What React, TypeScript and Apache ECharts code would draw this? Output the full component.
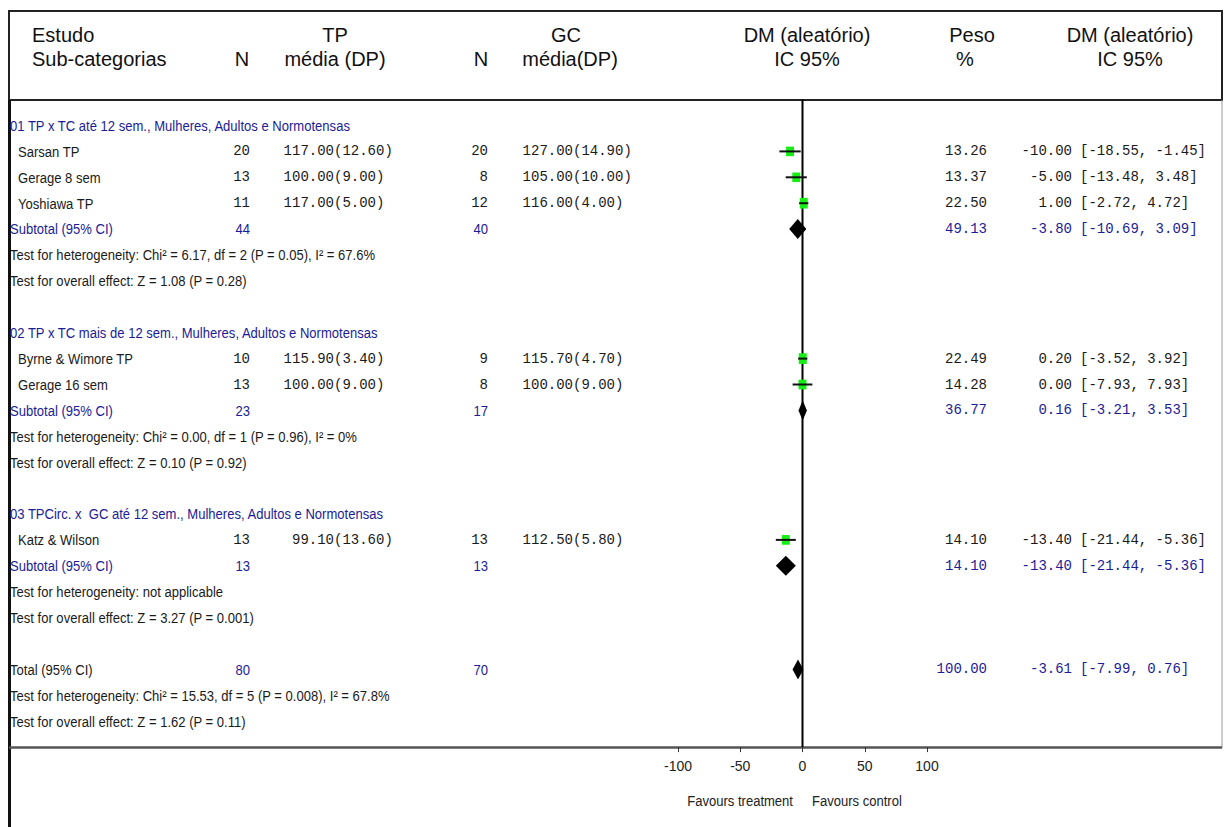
import React, { useEffect, useRef } from "react";
import * as echarts from "echarts";

// ---------------- data ----------------
const groupTitles = [
  "01 TP x TC até 12 sem., Mulheres, Adultos e Normotensas",
  "02 TP x TC mais de 12 sem., Mulheres, Adultos e Normotensas",
  "03 TPCirc. x  GC até 12 sem., Mulheres, Adultos e Normotensas",
];
const studyNames = ["Sarsan TP", "Gerage 8 sem", "Yoshiawa TP", "Byrne & Wimore TP", "Gerage 16 sem", "Katz & Wilson"];
const studyGroup = [0, 0, 0, 1, 1, 2];
const tpN = [20, 13, 11, 10, 13, 13];
const tpMean = [117.0, 100.0, 117.0, 115.9, 100.0, 99.1];
const tpSD = [12.6, 9.0, 5.0, 3.4, 9.0, 13.6];
const gcN = [20, 8, 12, 9, 8, 13];
const gcMean = [127.0, 105.0, 116.0, 115.7, 100.0, 112.5];
const gcSD = [14.9, 10.0, 4.0, 4.7, 9.0, 5.8];
const weight = [13.26, 13.37, 22.5, 22.49, 14.28, 14.1];
const md = [-10.0, -5.0, 1.0, 0.2, 0.0, -13.4];
const ciLow = [-18.55, -13.48, -2.72, -3.52, -7.93, -21.44];
const ciHigh = [-1.45, 3.48, 4.72, 3.92, 7.93, -5.36];

const subTpN = [44, 23, 13];
const subGcN = [40, 17, 13];
const subWeight = [49.13, 36.77, 14.1];
const subMd = [-3.8, 0.16, -13.4];
const subLow = [-10.69, -3.21, -21.44];
const subHigh = [3.09, 3.53, -5.36];
const heterogeneity = [
  "Test for heterogeneity: Chi² = 6.17, df = 2 (P = 0.05), I² = 67.6%",
  "Test for heterogeneity: Chi² = 0.00, df = 1 (P = 0.96), I² = 0%",
  "Test for heterogeneity: not applicable",
];
const overallEffect = [
  "Test for overall effect: Z = 1.08 (P = 0.28)",
  "Test for overall effect: Z = 0.10 (P = 0.92)",
  "Test for overall effect: Z = 3.27 (P = 0.001)",
];
const totalTpN = 80;
const totalGcN = 70;
const totalWeight = 100.0;
const totalMd = -3.61;
const totalLow = -7.99;
const totalHigh = 0.76;
const totalHet = "Test for heterogeneity: Chi² = 15.53, df = 5 (P = 0.008), I² = 67.8%";
const totalOverall = "Test for overall effect: Z = 1.62 (P = 0.11)";
const xTicks = [-100, -50, 0, 50, 100];

// ---------------- styles ----------------
const BLUE = "#1c1c96";
const BLACK = "#1a1a1a";
const GREEN = "#16ee16";
const SANS = "'Liberation Sans', Arial, sans-serif";
const MONO = "'Liberation Mono', 'Courier New', monospace";
const NARROW = 0.87;

// ---------------- row layout ----------------
type Row = { row: number; kind: string; i: number };
const rows: Row[] = [];
let r = 0;
for (let g = 0; g < groupTitles.length; g++) {
  rows.push({ row: r++, kind: "title", i: g });
  studyNames.forEach((_, s) => {
    if (studyGroup[s] === g) rows.push({ row: r++, kind: "study", i: s });
  });
  rows.push({ row: r++, kind: "subtotal", i: g });
  rows.push({ row: r++, kind: "het", i: g });
  rows.push({ row: r++, kind: "overall", i: g });
  r++;
}
rows.push({ row: r++, kind: "total", i: 0 });
rows.push({ row: r++, kind: "totalHet", i: 0 });
rows.push({ row: r++, kind: "totalOverall", i: 0 });

const studyRow = studyNames.map((_, s) => rows.find((x) => x.kind === "study" && x.i === s)!.row);
const subRow = groupTitles.map((_, g) => rows.find((x) => x.kind === "subtotal" && x.i === g)!.row);
const totalRow = rows.find((x) => x.kind === "total")!.row;

function txt(x: number, y: number, text: string, fill: string, family: string, size: number, align = "left", sx = 1) {
  return {
    type: "text",
    x,
    y,
    scaleX: sx,
    style: {
      text,
      fill,
      fontFamily: family,
      fontSize: size,
      align,
      textAlign: align,
      verticalAlign: "middle",
      textVerticalAlign: "middle",
    },
  };
}
// narrow sans body text
function ntxt(x: number, y: number, text: string, fill: string, align = "left") {
  return txt(x, y, text, fill, SANS, 15, align, NARROW);
}
function mtxt(x: number, y: number, text: string, fill: string, align = "left") {
  return txt(x, y, text, fill, MONO, 14, align);
}

const X_N1 = 250, X_M1 = 334, X_N2 = 488, X_M2 = 573, X_W = 987, X_MD = 1072, X_CI = 1080;

function tableItem(params: any, api: any) {
  const it = rows[params.dataIndex];
  const y = api.coord([0, it.row])[1];
  const c: any[] = [];
  const f = (v: number) => v.toFixed(2);
  if (it.kind === "title") c.push(ntxt(10, y, groupTitles[it.i], BLUE));
  if (it.kind === "study") {
    const s = it.i;
    c.push(ntxt(18, y, studyNames[s], BLACK));
    c.push(mtxt(X_N1, y, String(tpN[s]), BLACK, "right"));
    c.push(mtxt(X_M1, y, f(tpMean[s]), BLACK, "right"));
    c.push(mtxt(X_M1, y, "(" + f(tpSD[s]) + ")", BLACK));
    c.push(mtxt(X_N2, y, String(gcN[s]), BLACK, "right"));
    c.push(mtxt(X_M2, y, f(gcMean[s]), BLACK, "right"));
    c.push(mtxt(X_M2, y, "(" + f(gcSD[s]) + ")", BLACK));
    c.push(mtxt(X_W, y, f(weight[s]), BLACK, "right"));
    c.push(mtxt(X_MD, y, f(md[s]), BLACK, "right"));
    c.push(mtxt(X_CI, y, "[" + f(ciLow[s]) + ", " + f(ciHigh[s]) + "]", BLACK));
  }
  if (it.kind === "subtotal") {
    const g = it.i;
    c.push(ntxt(10, y, "Subtotal (95% CI)", BLUE));
    c.push(ntxt(X_N1, y, String(subTpN[g]), BLUE, "right"));
    c.push(ntxt(X_N2, y, String(subGcN[g]), BLUE, "right"));
    c.push(mtxt(X_W, y, f(subWeight[g]), BLUE, "right"));
    c.push(mtxt(X_MD, y, f(subMd[g]), BLUE, "right"));
    c.push(mtxt(X_CI, y, "[" + f(subLow[g]) + ", " + f(subHigh[g]) + "]", BLUE));
  }
  if (it.kind === "het") c.push(ntxt(10, y, heterogeneity[it.i], BLACK));
  if (it.kind === "overall") c.push(ntxt(10, y, overallEffect[it.i], BLACK));
  if (it.kind === "total") {
    c.push(ntxt(10, y, "Total (95% CI)", BLACK));
    c.push(ntxt(X_N1, y, String(totalTpN), BLUE, "right"));
    c.push(ntxt(X_N2, y, String(totalGcN), BLUE, "right"));
    c.push(mtxt(X_W, y, f(totalWeight), BLUE, "right"));
    c.push(mtxt(X_MD, y, f(totalMd), BLUE, "right"));
    c.push(mtxt(X_CI, y, "[" + f(totalLow) + ", " + f(totalHigh) + "]", BLUE));
  }
  if (it.kind === "totalHet") c.push(ntxt(10, y, totalHet, BLACK));
  if (it.kind === "totalOverall") c.push(ntxt(10, y, totalOverall, BLACK));
  return { type: "group", children: c };
}

function studyItem(params: any, api: any) {
  const c = api.coord([api.value(0), api.value(1)]);
  const lo = api.coord([api.value(2), api.value(1)]);
  const hi = api.coord([api.value(3), api.value(1)]);
  const w = api.value(4);
  const h = 8 + w * 0.12;
  const bw = 8;
  return {
    type: "group",
    children: [
      { type: "rect", shape: { x: c[0] - bw / 2, y: c[1] - h / 2, width: bw, height: h }, style: { fill: GREEN } },
      { type: "line", shape: { x1: lo[0], y1: c[1], x2: hi[0], y2: c[1] }, style: { stroke: "#111", lineWidth: 2 } },
    ],
  };
}

function diamondItem(params: any, api: any) {
  const c = api.coord([api.value(0), api.value(1)]);
  const lo = api.coord([api.value(2), api.value(1)]);
  const hi = api.coord([api.value(3), api.value(1)]);
  const h = 20;
  return {
    type: "polygon",
    shape: { points: [[lo[0], c[1]], [c[0], c[1] - h / 2], [hi[0], c[1]], [c[0], c[1] + h / 2]] },
    style: { fill: "#000" },
  };
}

const headerFont = { fontFamily: SANS, fontSize: 20, fill: "#111" };
function htext(x: number, y: number, text: string, align = "center") {
  return {
    type: "text",
    x,
    y,
    style: { ...headerFont, text, align, textAlign: align, verticalAlign: "middle", textVerticalAlign: "middle" },
  };
}

export default function App() {
  const ref = useRef<HTMLDivElement>(null);
  useEffect(() => {
    const chart = echarts.init(ref.current!, undefined, { renderer: "svg" });
    const diamonds = [
      ...subMd.map((v, g) => [v, subRow[g], subLow[g], subHigh[g]]),
      [totalMd, totalRow, totalLow, totalHigh],
    ];
    chart.setOption({
      animation: false,
      backgroundColor: "#fff",
      grid: { left: 678, right: 297, top: 99.6, bottom: 79.9 },
      xAxis: {
        type: "value",
        position: "bottom",
        min: -100,
        max: 100,
        interval: 50,
        axisLine: { show: false, onZero: false },
        axisTick: { show: true, length: 5, lineStyle: { color: "#333", width: 1 } },
        axisLabel: {
          color: "#222",
          fontFamily: SANS,
          fontSize: 14,
          margin: 12,
          formatter: (v: number) => (xTicks.includes(v) ? String(v) : ""),
        },
        splitLine: { show: false },
      },
      yAxis: { type: "value", inverse: true, min: -1, max: 24, show: false },
      graphic: [
        { type: "rect", shape: { x: 9, y: 11, width: 1213, height: 89 }, style: { fill: "none", stroke: "#222", lineWidth: 2 } },
        { type: "line", shape: { x1: 9.5, y1: 100, x2: 9.5, y2: 827 }, style: { stroke: "#111", lineWidth: 3 } },
        { type: "line", shape: { x1: 1222, y1: 100, x2: 1222, y2: 748 }, style: { stroke: "#999", lineWidth: 1 } },
        { type: "line", shape: { x1: 9, y1: 747.5, x2: 1222, y2: 747.5 }, style: { stroke: "#555", lineWidth: 2.5 } },
        htext(32, 35, "Estudo", "left"),
        htext(32, 59, "Sub-categorias", "left"),
        htext(242, 59, "N"),
        htext(335, 35, "TP"),
        htext(335, 59, "média (DP)"),
        htext(481, 59, "N"),
        htext(566, 35, "GC"),
        htext(570, 59, "média(DP)"),
        htext(807, 35, "DM (aleatório)"),
        htext(807, 59, "IC 95%"),
        htext(972, 35, "Peso"),
        htext(965, 59, "%"),
        htext(1130, 35, "DM (aleatório)"),
        htext(1130, 59, "IC 95%"),
        txt(793, 801, "Favours treatment", "#222", SANS, 15, "right", NARROW),
        txt(812, 801, "Favours control", "#222", SANS, 15, "left", NARROW),
      ],
      series: [
        {
          type: "line",
          data: [[0, -1], [0, 24]],
          symbol: "none",
          lineStyle: { color: "#000", width: 2 },
          z: 1,
          silent: true,
        },
        {
          type: "custom",
          data: md.map((v, s) => [v, studyRow[s], ciLow[s], ciHigh[s], weight[s]]),
          renderItem: studyItem,
          z: 3,
          silent: true,
        },
        {
          type: "custom",
          data: diamonds,
          renderItem: diamondItem,
          z: 3,
          silent: true,
        },
        {
          type: "custom",
          data: rows.map((it) => [0, it.row]),
          renderItem: tableItem,
          clip: false,
          z: 4,
          silent: true,
        },
      ],
    });
    return () => chart.dispose();
  }, []);
  return (
    <div
      ref={ref}
      style={{ position: "fixed", left: 0, top: 0, width: 1224, height: 827, background: "#fff" }}
    />
  );
}
